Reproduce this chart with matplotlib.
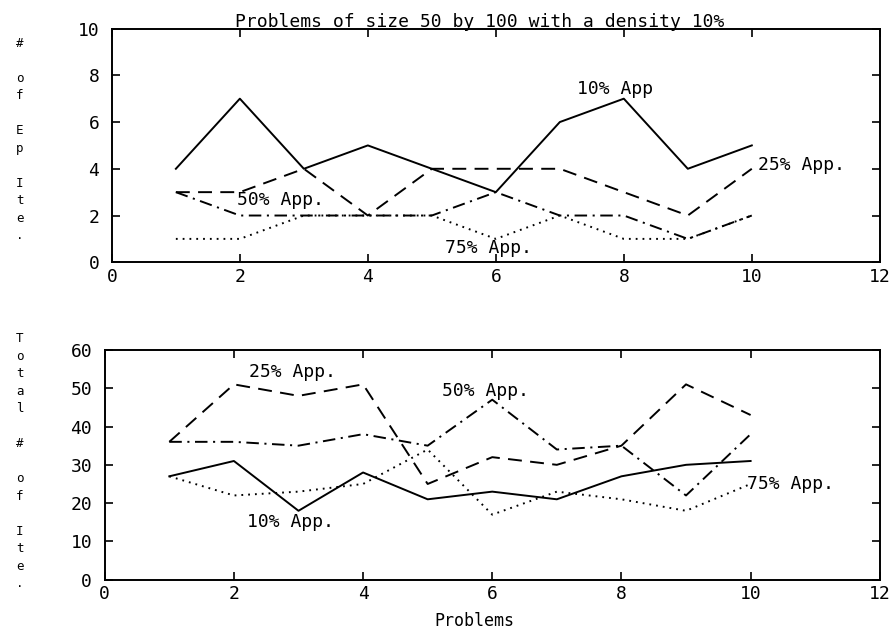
import numpy as np
import matplotlib
matplotlib.use('Agg')
import matplotlib.pyplot as plt

plt.rcParams['font.family'] = ['DejaVu Sans Mono']
plt.rcParams['lines.scale_dashes'] = False

# data
problems = np.arange(1, 11)

ep_10 = [4, 7, 4, 5, 4, 3, 6, 7, 4, 5]          # solid
ep_25 = [3, 3, 4, 2, 4, 4, 4, 3, 2, 4]          # dashed
ep_50 = [3, 2, 2, 2, 2, 3, 2, 2, 1, 2]          # dash-dot
ep_75 = [1, 1, 2, 2, 2, 1, 2, 1, 1, 2]          # dotted

tot_10 = [27, 31, 18, 28, 21, 23, 21, 27, 30, 31]
tot_25 = [36, 51, 48, 51, 25, 32, 30, 35, 51, 43]
tot_50 = [36, 36, 35, 38, 35, 47, 34, 35, 22, 38]
tot_75 = [27, 22, 23, 25, 34, 17, 23, 21, 18, 25]

xticks = [0, 2, 4, 6, 8, 10, 12]
ep_yticks = [0, 2, 4, 6, 8, 10]
tot_yticks = [0, 10, 20, 30, 40, 50, 60]

title = 'Problems of size 50 by 100 with a density 10%'
ep_ylabel = '# of Ep Ite.'
tot_ylabel = 'Total # of Ite.'

styles = {'solid': '-', 'dash': (0, (10, 6)), 'dashdot': (0, (9, 4, 1.5, 4)), 'dot': (0, (1.3, 3.6))}

fig = plt.figure(figsize=(8.95, 6.35), dpi=100)
ax1 = fig.add_axes([0.125, 0.587, 0.858, 0.368])
ax2 = fig.add_axes([0.117, 0.087, 0.866, 0.362])

def setup(ax, yticks):
	ax.set_xlim(0, 12)
	ax.set_ylim(yticks[0], yticks[-1])
	ax.set_xticks(xticks)
	ax.set_yticks(yticks)
	ax.tick_params(direction='in', top=True, right=True, length=6, width=1.2, labelsize=13)
	ax.tick_params(axis='y', pad=9)
	ax.tick_params(axis='x', pad=4)
	for s in ax.spines.values():
		s.set_linewidth(1.4)

lw = 1.4
ax1.plot(problems, ep_10, color='black', lw=lw, linestyle=styles['solid'])
ax1.plot(problems, ep_25, color='black', lw=lw, linestyle=styles['dash'])
ax1.plot(problems, ep_50, color='black', lw=lw, linestyle=styles['dashdot'])
ax1.plot(problems, ep_75, color='black', lw=lw, linestyle=styles['dot'])
setup(ax1, ep_yticks)
ax1.set_title(title, fontsize=13, pad=1, x=0.479)
ax1.text(7.27, 7.4, '10% App', fontsize=13, va='center')
ax1.text(10.1, 4.15, '25% App.', fontsize=13, va='center')
ax1.text(1.95, 2.65, '50% App.', fontsize=13, va='center')
ax1.text(5.2, 0.6, '75% App.', fontsize=13, va='center')

ax2.plot(problems, tot_10, color='black', lw=lw, linestyle=styles['solid'])
ax2.plot(problems, tot_25, color='black', lw=lw, linestyle=styles['dash'])
ax2.plot(problems, tot_50, color='black', lw=lw, linestyle=styles['dashdot'])
ax2.plot(problems, tot_75, color='black', lw=lw, linestyle=styles['dot'])
setup(ax2, tot_yticks)
ax2.set_xlabel('Problems', fontsize=12)
ax2.xaxis.set_label_coords(0.477, -0.14)
ax2.text(2.24, 54.3, '25% App.', fontsize=13, va='center')
ax2.text(5.22, 49.2, '50% App.', fontsize=13, va='center')
ax2.text(2.21, 15, '10% App.', fontsize=13, va='center')
ax2.text(9.95, 25, '75% App.', fontsize=13, va='center')

# old style y labels: one character per line
fig.text(0.022, 0.78, '\n'.join(ep_ylabel), fontsize=9, ha='center', va='center', linespacing=1.45)
fig.text(0.022, 0.274, '\n'.join(tot_ylabel), fontsize=9, ha='center', va='center', linespacing=1.45)

fig.savefig('out.png', dpi=100)
